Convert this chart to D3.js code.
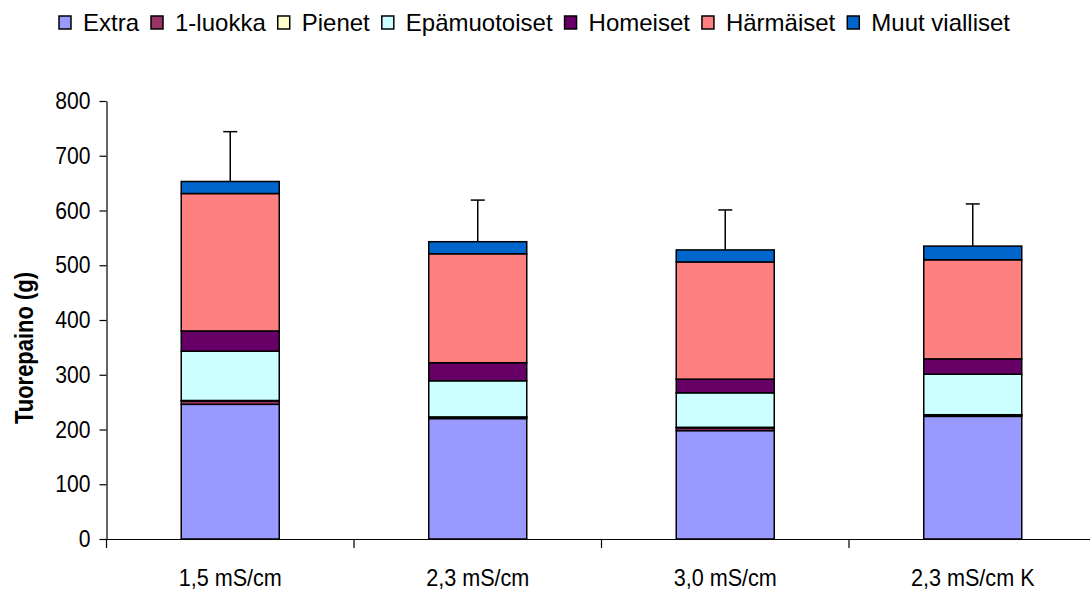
<!DOCTYPE html>
<html><head><meta charset="utf-8">
<script src="https://cdn.jsdelivr.net/npm/d3@7"></script>
<style>body{margin:0;background:#fff}svg{display:block}text{font-family:"Liberation Sans",Arial,sans-serif}</style>
</head><body>
<svg id="c" width="1090" height="590"></svg>
<script>
const categories = ["1,5 mS/cm", "2,3 mS/cm", "3,0 mS/cm", "2,3 mS/cm K"];
const seriesNames = ["Extra", "1-luokka", "Pienet", "Epämuotoiset", "Homeiset", "Härmäiset", "Muut vialliset"];
const extra = [246, 220, 198, 224];
const luokka1 = [6, 2, 5, 2];
const pienet = [1, 1, 1, 1];
const epamuotoiset = [90, 66, 63, 74];
const homeiset = [37, 33, 25, 28];
const harmaiset = [251, 199, 214, 181];
const muut = [22, 22, 22, 25];
const errorPlus = [91, 76, 73, 77];
const colors = ["#9999FF", "#993366", "#FFFFCC", "#CCFFFF", "#660066", "#FF8080", "#0066CC"];
const yTicks = [0, 100, 200, 300, 400, 500, 600, 700, 800];

const seriesValues = [extra, luokka1, pienet, epamuotoiset, homeiset, harmaiset, muut];
const table = categories.map((c, i) => {
  const r = {cat: c};
  seriesNames.forEach((s, j) => r[s] = seriesValues[j][i]);
  return r;
});
const stacked = d3.stack().keys(seriesNames)(table);

function condense(sel, f) {
  sel.each(function () {
    const len = this.getComputedTextLength();
    d3.select(this).attr("textLength", len * f).attr("lengthAdjust", "spacingAndGlyphs");
  });
}

const svg = d3.select("#c");
const x0 = 106.5, x1 = 1096.5, yTop = 101, yBot = 539;
const x = d3.scaleBand().domain(categories).range([x0, x1]).padding(0);
const y = d3.scaleLinear().domain([0, 800]).range([yBot, yTop]);
const barW = x.bandwidth() * 0.396;

// bars
stacked.forEach((layer, j) => {
  svg.append("g").selectAll("rect").data(layer).join("rect")
    .attr("x", d => x(d.data.cat) + (x.bandwidth() - barW) / 2)
    .attr("width", barW)
    .attr("y", d => y(d[1]))
    .attr("height", d => y(d[0]) - y(d[1]))
    .attr("fill", colors[j])
    .attr("stroke", "#000")
    .attr("stroke-width", 1.5);
});

// error bars
const totals = table.map(r => d3.sum(seriesNames, s => r[s]));
const eg = svg.append("g").attr("stroke", "#000").attr("stroke-width", 1.5);
categories.forEach((c, i) => {
  const cx = x(c) + x.bandwidth() / 2;
  eg.append("line").attr("x1", cx).attr("x2", cx).attr("y1", y(totals[i])).attr("y2", y(totals[i] + errorPlus[i]));
  eg.append("line").attr("x1", cx - 7).attr("x2", cx + 7).attr("y1", y(totals[i] + errorPlus[i])).attr("y2", y(totals[i] + errorPlus[i]));
});

// y axis
const ya = svg.append("g").attr("transform", `translate(${x0},0)`)
  .call(d3.axisLeft(y).tickValues(yTicks).tickSize(7).tickPadding(9).tickSizeOuter(0));
ya.select(".domain").attr("stroke", "#000").attr("stroke-width", 1.2);
ya.selectAll(".tick line").attr("stroke", "#000").attr("stroke-width", 1.2);
ya.selectAll(".tick text").attr("font-size", 24).attr("fill", "#000").attr("font-family", "Liberation Sans, Arial, sans-serif");
condense(ya.selectAll(".tick text"), 0.88);

// x axis
const xa = svg.append("g").attr("transform", `translate(0,${yBot})`)
  .call(d3.axisBottom(x).tickSize(0).tickPadding(30).tickSizeOuter(0));
xa.select(".domain").attr("stroke", "#000").attr("stroke-width", 1.2);
xa.selectAll(".tick text").attr("font-size", 24).attr("fill", "#000").attr("font-family", "Liberation Sans, Arial, sans-serif");
condense(xa.selectAll(".tick text"), 0.9);
// boundary ticks
const bounds = categories.map(c => x(c));
svg.append("g").selectAll("line").data(bounds).join("line")
  .attr("x1", d => d).attr("x2", d => d).attr("y1", yBot).attr("y2", yBot + 9)
  .attr("stroke", "#000").attr("stroke-width", 1.2);

// y title
const yt = svg.append("text").attr("transform", "translate(33,348) rotate(-90)")
  .attr("text-anchor", "middle").attr("font-size", 25).attr("font-weight", "bold")
  .text("Tuorepaino (g)");
yt.attr("textLength", 152).attr("lengthAdjust", "spacingAndGlyphs");

// legend
const lg = svg.append("g");
let lx = 0;
seriesNames.forEach((s, j) => {
  const g = lg.append("g").attr("transform", `translate(${lx},0)`);
  g.append("rect").attr("x", 0).attr("y", 16).attr("width", 12).attr("height", 13)
    .attr("fill", colors[j]).attr("stroke", "#000").attr("stroke-width", 1.5);
  const t = g.append("text").attr("x", 24).attr("y", 31).attr("font-size", 24).text(s);
  lx += 24 + t.node().getComputedTextLength() + 12;
});
const lw = lx - 12;
lg.attr("transform", `translate(${534.5 - lw / 2},0)`);
</script>
</body></html>
